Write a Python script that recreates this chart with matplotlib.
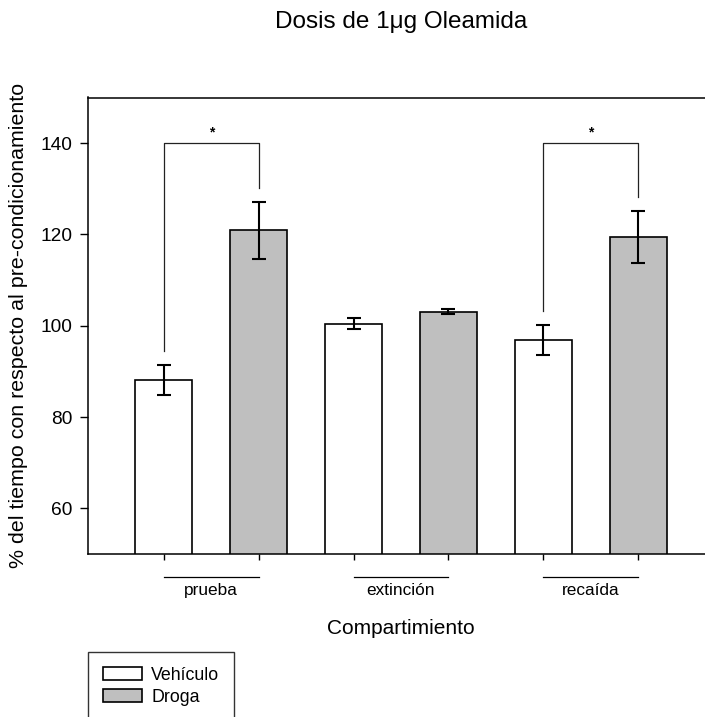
import numpy as np
import matplotlib
matplotlib.use("Agg")
from matplotlib import pyplot as plt

plt.rcParams['font.family'] = ['Liberation Sans', 'DejaVu Sans']

# datos: % del tiempo respecto al pre-condicionamiento (media y error)
compartimentos = ['prueba', 'extinción', 'recaída']
vehiculo = [88.1, 100.4, 96.9]
vehiculo_err = [3.3, 1.2, 3.3]
droga = [120.9, 103.1, 119.4]
droga_err = [6.3, 0.6, 5.7]
significativo = [True, False, True]

gris = '#bfbfbf'

fig = plt.figure(figsize=(7.05, 7.17), dpi=100)
ax = fig.add_axes([88 / 705, 163 / 717, 626 / 705, 456.5 / 717])

x_veh = np.arange(len(compartimentos)) * 2
x_dro = x_veh + 1
ancho = 0.6

ax.bar(x_veh, vehiculo, ancho, color='white', edgecolor='black', linewidth=1.2,
       label='Vehículo', zorder=2)
ax.bar(x_dro, droga, ancho, color=gris, edgecolor='black', linewidth=1.2,
       label='Droga', zorder=2)
ax.errorbar(x_veh, vehiculo, yerr=vehiculo_err, fmt='none', ecolor='black',
            elinewidth=1.5, capsize=4.7, capthick=1.5, zorder=3)
ax.errorbar(x_dro, droga, yerr=droga_err, fmt='none', ecolor='black',
            elinewidth=1.5, capsize=4.7, capthick=1.5, zorder=3)

# corchetes de significancia
for i, sig in enumerate(significativo):
    if not sig:
        continue
    tope = 140
    pie_izq = vehiculo[i] + vehiculo_err[i] + 3
    pie_der = droga[i] + droga_err[i] + 3
    ax.plot([x_veh[i], x_veh[i], x_dro[i], x_dro[i]],
            [pie_izq, tope, tope, pie_der], color='#222222', lw=0.9, zorder=1)
    ax.text((x_veh[i] + x_dro[i]) / 2, tope + 0.9, '*', ha='center',
            va='bottom', fontsize=10, fontweight='bold')

ax.set_xlim(-0.8, 5.8)
ax.set_ylim(50, 150)
ax.set_yticks([60, 80, 100, 120, 140])
ax.tick_params(axis='y', labelsize=13.8, length=6, width=1.0, direction='out', pad=5.5)
ax.set_xticks(np.concatenate([x_veh, x_dro]))
ax.set_xticklabels([])
ax.tick_params(axis='x', length=4.5, width=1.0, direction='out')
for s in ax.spines.values():
    s.set_linewidth(1.1)

# etiquetas de grupo bajo el eje
trans = ax.get_xaxis_transform()
for i, nombre in enumerate(compartimentos):
    ax.plot([x_veh[i], x_dro[i]], [-0.05, -0.05], color='black', lw=0.9,
            transform=trans, clip_on=False)
    ax.text((x_veh[i] + x_dro[i]) / 2, -0.079, nombre, transform=trans,
            ha='center', va='center', fontsize=12.4)

ax.set_ylabel('% del tiempo con respecto al pre-condicionamiento', fontsize=15.4,
              labelpad=9)
fig.text(401 / 705, 1 - 628 / 717, 'Compartimiento', ha='center', va='center',
         fontsize=15)
fig.text(401 / 705, 1 - 22 / 717, 'Dosis de 1μg Oleamida', ha='center',
         va='center', fontsize=17.5)

leg = fig.legend(loc='upper left', bbox_to_anchor=(88 / 705, 1 - 651.5 / 717),
                 fontsize=12.8, frameon=True, fancybox=False, edgecolor='black',
                 handlelength=2.2, handleheight=0.73, handletextpad=0.5,
                 labelspacing=0.3, borderpad=0.85, borderaxespad=0)
leg.get_frame().set_linewidth(1.0)

fig.savefig('out.png', dpi=100)
